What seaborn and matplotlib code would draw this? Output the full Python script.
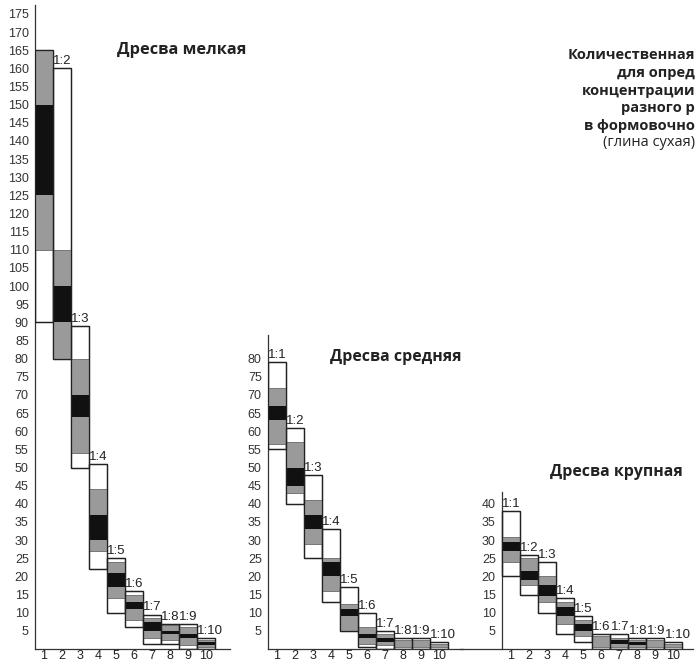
import numpy as np
import matplotlib
matplotlib.use("Agg")
import matplotlib.pyplot as plt
import seaborn as sns

# Data

ratios = ["1:1", "1:2", "1:3", "1:4", "1:5", "1:6", "1:7", "1:8", "1:9", "1:10"]
positions = [1, 2, 3, 4, 5, 6, 7, 8, 9, 10]

# Дресва мелкая
small_white_lo = [90, 80, 50, 22, 10, 6, 1.3, 1.5, 0, 0]
small_white_hi = [165, 160, 89, 51, 25, 16, 9.5, 7, 7, 3]
small_grey_lo = [110, 80, 54, 27, 14, 8, 3, 2.5, 1, 0.5]
small_grey_hi = [165, 110, 80, 44, 24, 15, 8.5, 6.5, 6, 2.5]
small_black_lo = [125, 90, 64, 30, 17, 11, 5, 4, 3, 1]
small_black_hi = [150, 100, 70, 37, 21, 13, 7.5, 5, 4, 2]
small_ticks = list(range(5, 180, 5))

# Дресва средняя
med_white_lo = [55, 40, 25, 13, 5, 0.5, 0, 0, 0, 0]
med_white_hi = [79, 61, 48, 33, 17, 10, 5, 3, 3, 2]
med_grey_lo = [56.5, 43, 29, 16, 5, 1.5, 1, 0.5, 0.5, 0.5]
med_grey_hi = [72, 57, 41, 25, 12.5, 6, 4, 2.5, 2.5, 1.5]
med_black_lo = [63, 45, 33, 20, 9, 3, 2, 1.3, 1.3, 0.8]
med_black_hi = [67, 50, 37, 24, 11, 4, 3, 1.3, 1.3, 0.8]
med_ticks = list(range(5, 85, 5))

# Дресва крупная
large_white_lo = [20, 15, 10, 4, 2, 0, 0, 0, 0, 0]
large_white_hi = [38, 26, 24, 14, 9, 4, 4, 3, 3, 2]
large_grey_lo = [24, 17.5, 13, 7, 3.5, 0.5, 0.5, 0.5, 0.5, 0.5]
large_grey_hi = [31, 25, 20, 13, 8, 3.5, 3, 2.5, 2.5, 1.5]
large_black_lo = [27, 19, 14.5, 9, 5, 1.5, 1.5, 1, 1.5, 1]
large_black_hi = [29.5, 21.5, 17.5, 11.5, 7, 1.5, 2.5, 2, 1.5, 1]
large_ticks = list(range(5, 45, 5))

title_lines = ["Количественная", "для опред", "концентрации",
               "разного р", "в формовочно"]
title_note = "(глина сухая)"

# Style

sns.set_style("white")
plt.rcParams["font.family"] = ["Liberation Sans Narrow", "Liberation Sans", "DejaVu Sans"]

fig = plt.figure(figsize=(6.95, 6.64), dpi=100)

W, H = 695, 664
PX_Y = 3.629  # pixels per unit on every panel
BOTTOM = 15


def draw_panel(ax, wlo, whi, glo, ghi, blo, bhi, ytop, yticks, skip_first_label=False):
    x = np.array(positions) - 1
    wlo, whi = np.array(wlo), np.array(whi)
    glo, ghi = np.array(glo), np.array(ghi)
    blo, bhi = np.array(blo), np.array(bhi)

    ax.bar(x, whi - wlo, bottom=wlo, width=1, align="edge",
           color="white", edgecolor="#222222", linewidth=0.9, zorder=2)
    ax.bar(x, ghi - glo, bottom=glo, width=1, align="edge",
           color="#9a9a9a", edgecolor="#555555", linewidth=0.5, zorder=3)
    has_black = (bhi - blo) > 0
    ax.bar(x[has_black], (bhi - blo)[has_black], bottom=blo[has_black],
           width=1, align="edge", color="#111111", linewidth=0, zorder=4)
    # outer outline on top
    ax.bar(x, whi - wlo, bottom=wlo, width=1, align="edge",
           fill=False, edgecolor="#222222", linewidth=0.9, zorder=5)

    for i, lab in enumerate(ratios):
        if skip_first_label and i == 0:
            continue
        ax.text(x[i] + 0.02, whi[i] + 0.3, lab, fontsize=9.5,
                ha="left", va="bottom", color="#222222", zorder=6)

    ax.set_ylim(0, ytop)
    ax.set_yticks(yticks)
    ax.set_xticks(x + 0.5, [str(p) for p in positions])
    ax.set_xticks(np.arange(0, 11), minor=True)
    ax.tick_params(axis="x", which="major", length=0, labelsize=9,
                   pad=0.5, colors="#222222")
    ax.tick_params(axis="x", which="minor", length=3, width=0.8,
                   direction="out", color="#444444")
    ax.tick_params(axis="y", length=3, width=0.8, direction="out",
                   labelsize=9, pad=1.5, colors="#333333")
    sns.despine(ax=ax)
    for side in ["left", "bottom"]:
        ax.spines[side].set_color("#333333")
        ax.spines[side].set_linewidth(0.9)
    ax.patch.set_alpha(0)


# Panel 1
ax1 = fig.add_axes([35 / W, BOTTOM / H, 195 / W, 644 / H])
ax1.set_xlim(0, 10.83)
draw_panel(ax1, small_white_lo, small_white_hi, small_grey_lo, small_grey_hi,
           small_black_lo, small_black_hi, 644 / PX_Y, small_ticks,
           skip_first_label=True)

# Panel 2
ax2 = fig.add_axes([268 / W, BOTTOM / H, 195 / W, 314 / H])
ax2.set_xlim(0, 10.83)
draw_panel(ax2, med_white_lo, med_white_hi, med_grey_lo, med_grey_hi,
           med_black_lo, med_black_hi, 314 / PX_Y, med_ticks)

# Panel 3
ax3 = fig.add_axes([460 / W, BOTTOM / H, 233 / W, 157 / H])
ax3.set_xlim(-2.33, 10.6)
draw_panel(ax3, large_white_lo, large_white_hi, large_grey_lo, large_grey_hi,
           large_black_lo, large_black_hi, 157 / PX_Y, large_ticks)
ax3.spines["left"].set_position(("data", 0))

# Panel titles

fig.text(117 / W, 1 - 50 / H, "Дресва мелкая", fontsize=11.8, fontweight="bold",
         family="Open Sans", color="#222222", ha="left", va="center")
fig.text(330 / W, 1 - 357 / H, "Дресва средняя", fontsize=11.4, fontweight="bold",
         family="Open Sans", color="#222222", ha="left", va="center")
fig.text(550 / W, 1 - 472 / H, "Дресва крупная", fontsize=11.4, fontweight="bold",
         family="Open Sans", color="#222222", ha="left", va="center")

# Main caption (cut by the right edge in the original)

line_y = [55, 73, 91, 108, 126]
for txt, yy in zip(title_lines, line_y):
    fig.text(1.0, 1 - yy / H, txt, fontsize=10.5, fontweight="bold",
             family="Open Sans", color="#222222", ha="right", va="center")
fig.text(1.0, 1 - 143 / H, title_note, fontsize=10.5,
         family="Open Sans", color="#222222", ha="right", va="center")

fig.savefig("out.png", dpi=100)
